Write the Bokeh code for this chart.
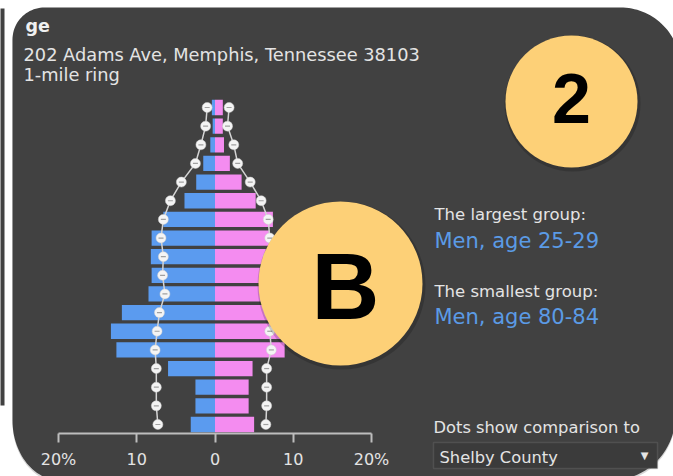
import numpy as np
from bokeh.plotting import figure
from bokeh.models import Range1d, LinearAxis, FixedTicker, Label, BoxAnnotation
from bokeh.embed import file_html
from bokeh.resources import INLINE

# ---------------- data ----------------
age_groups = ["0-4", "5-9", "10-14", "15-19", "20-24", "25-29", "30-34", "35-39", "40-44",
              "45-49", "50-54", "55-59", "60-64", "65-69", "70-74", "75-79", "80-84", "85+"]
men_pct = [3.1, 2.5, 2.5, 6.0, 12.6, 13.3, 11.9, 8.5, 8.1, 8.2, 8.1, 6.6, 3.9, 2.4, 1.5, 0.6, 0.3, 0.4]
women_pct = [5.0, 4.3, 4.3, 4.8, 8.9, 9.2, 8.5, 7.5, 6.8, 6.5, 6.9, 7.4, 5.2, 3.4, 1.9, 1.15, 1.0, 1.0]
men_county = [7.3, 7.5, 7.5, 7.5, 7.65, 7.4, 7.1, 6.4, 6.7, 6.6, 6.9, 6.6, 5.7, 4.3, 2.5, 1.8, 1.2, 1.0]
women_county = [6.5, 6.6, 6.6, 6.6, 7.2, 7.0, 7.0, 6.8, 6.7, 6.8, 7.0, 6.8, 5.9, 4.5, 2.9, 2.4, 1.6, 1.8]
tick_values = [-20, -10, 0, 10, 20]
tick_labels = ["20%", "10", "0", "10", "20%"]

# ---------------- styling ----------------
W, H = 673, 476
DARK = "#414141"
BLUE = "#5B9BEF"
PINK = "#F48CF0"
LIGHT = "#e4e4e4"
TEXTBLUE = "#5B9BE6"
YELLOW = "#FDD077"
FONT = "DejaVu Sans"

# pixel -> data helpers (layout only)
PX_PER_PCT = (371 - 58) / 40.0
ROW = (424 - 107) / 17.0


def dx(px):
    return -20 + (px - 58) / PX_PER_PCT


def dy(py):
    return (424 - py) / ROW


rows = list(range(len(age_groups)))
men_left = [-v for v in men_pct]
men_cmp_x = [-v for v in men_county]

p = figure(width=W, height=H,
           x_range=Range1d(dx(0), dx(W)), y_range=Range1d(dy(H), dy(0)),
           x_axis_type=None, y_axis_type=None,
           toolbar_location=None, output_backend="svg",
           background_fill_color="white", border_fill_color="white",
           outline_line_color=None, min_border=0)


def arc(cx, cy, rx, ry, a0, a1, n=24):
    t = np.linspace(a0, a1, n)
    return list(cx + rx * np.cos(t)), list(cy + ry * np.sin(t))


# card outline (screen y grows downward)
xs, ys = [], []
for seg in [arc(44, 39, 32, 32, np.pi, 1.5 * np.pi),
            arc(620, 67, 60, 60, 1.5 * np.pi, 2 * np.pi - 0.49),
            ([690, 690], [39, 399]),
            arc(610, 415, 65, 65, -0.25, 1.45),
            ([600, 0], [495, 495]),
            arc(60, 420, 48, 60, 0.5 * np.pi + 0.35, np.pi)]:
    xs += list(seg[0])
    ys += list(seg[1])

# soft shadow + card
p.patch([dx(v) for v in xs], [dy(v + 2) for v in ys], fill_color="#8a8a8a", fill_alpha=0.35, line_color=None)
p.patch([dx(v) for v in xs], [dy(v) for v in ys], fill_color=DARK, line_color=None)
# edge of neighbouring card on the far left
p.patch([dx(v) for v in [-5, 4, 4, -5]], [dy(v) for v in [8, 8, 405, 405]], fill_color=DARK, line_color=None)

# bars
p.hbar(y=rows, left=men_left, right=0, height=0.82, fill_color=BLUE, line_color=None)
p.hbar(y=rows, left=0, right=women_pct, height=0.82, fill_color=PINK, line_color=None)

# comparison dots
for cmp in (men_cmp_x, women_county):
    p.line(x=cmp, y=rows, line_color="#d4d4d4", line_width=1.5)
    p.scatter(x=cmp, y=rows, size=10, fill_color="#f4f4f4", line_color="#cfcfcf", line_width=0.5)
    p.scatter(x=cmp, y=rows, size=5, marker="dash", line_color="#a0a0a0", line_width=1.2)

# axis drawn at a fixed position inside the card
xaxis = LinearAxis(ticker=FixedTicker(ticks=tick_values), bounds=(-20, 20),
                   fixed_location=dy(433),
                   major_label_overrides={v: lab for v, lab in zip(tick_values, tick_labels)},
                   axis_line_color="#bdbdbd", axis_line_width=2,
                   major_tick_line_color="#bdbdbd", major_tick_line_width=2,
                   major_tick_in=0, major_tick_out=9, minor_tick_line_color=None,
                   major_label_text_color=LIGHT, major_label_text_font=FONT,
                   major_label_text_font_size="16px", major_label_standoff=7)
p.add_layout(xaxis, "below")

# overlay badges (with faint shadow)
p.scatter(x=[dx(572)], y=[dy(103)], size=136, fill_color="black", fill_alpha=0.18, line_color=None)
p.scatter(x=[dx(571)], y=[dy(101)], size=132, fill_color=YELLOW, line_color=None)
p.scatter(x=[dx(341)], y=[dy(285)], size=168, fill_color="black", fill_alpha=0.18, line_color=None)
p.scatter(x=[dx(340)], y=[dy(283)], size=164, fill_color=YELLOW, line_color=None)


def label(px, py, text, size, shift, color=LIGHT, font=FONT, style="normal", align="left"):
    # py = wanted baseline (pixels); shift compensates the renderer's baseline offset
    p.add_layout(Label(x=dx(px), y=dy(py - shift), text=text, text_font=font,
                       text_font_size=f"{size}px", text_color=color, text_font_style=style,
                       text_align=align, text_baseline="alphabetic"))


label(25, 29, "ge", 17.5, 4, color="#f0f0f0", style="bold")
label(23, 58, "202 Adams Ave, Memphis, Tennessee 38103", 17.8, 4)
label(23, 78, "1-mile ring", 17.8, 4)
label(434, 217, "The largest group:", 16.5, 3)
label(434, 244, "Men, age 25-29", 21, 4, color=TEXTBLUE)
label(434, 294, "The smallest group:", 16.5, 3)
label(434, 320, "Men, age 80-84", 21, 4, color=TEXTBLUE)
label(433, 430, "Dots show comparison to", 16.3, 3)
label(571, 125, "2", 70, 27, color="black", font="Liberation Sans", style="bold", align="center")
label(345, 322, "B", 94, 36, color="black", font="Liberation Sans", style="bold", align="center")

# dropdown
p.add_layout(BoxAnnotation(left=dx(433), right=dx(657), top=dy(442), bottom=dy(468),
                           fill_color="#3b3b3b", fill_alpha=1, line_color="#7e7e7e", line_width=1.5))
label(439, 461, "Shelby County", 16.3, 4)
label(644, 457, "\u25BC", 10, 2, align="center")

open("out.html", "w").write(file_html(p, INLINE))
